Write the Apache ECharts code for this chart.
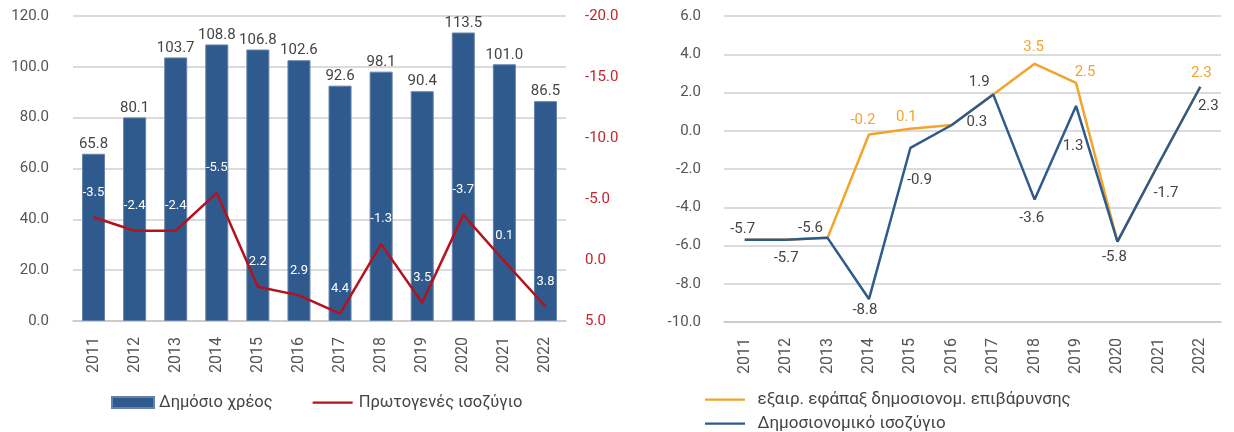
<!DOCTYPE html>
<html>
<head>
<meta charset="utf-8">
<script src="https://cdn.jsdelivr.net/npm/echarts@6/dist/echarts.min.js"></script>
<style>
  html, body { margin: 0; padding: 0; background: #fff; }
  #chart { width: 1234px; height: 432px; }
</style>
</head>
<body>
<div id="chart"></div>
<script>
const years = ['2011', '2012', '2013', '2014', '2015', '2016', '2017', '2018', '2019', '2020', '2021', '2022']

// left panel
const debt = [65.8, 80.1, 103.7, 108.8, 106.8, 102.6, 92.6, 98.1, 90.4, 113.5, 101.0, 86.5]
const primary = [-3.5, -2.4, -2.4, -5.5, 2.2, 2.9, 4.4, -1.3, 3.5, -3.7, 0.1, 3.8]

// right panel
const exOneOff = [-5.7, -5.7, -5.6, -0.2, 0.1, 0.3, 1.9, 3.5, 2.5, -5.8, -1.7, 2.3]
const fiscal = [-5.7, -5.7, -5.6, -8.8, -0.9, 0.3, 1.9, -3.6, 1.3, -5.8, -1.7, 2.3]

// which points get a label, and where the label sits relative to the point
const exOneOffLabel = { 3: [-6, -14], 4: [-4, -12], 7: [-1, -17], 8: [9, -11], 11: [1, -14] }
const fiscalLabel = [[-2, -11], [0, 18], [-17, -10], [-4, 11], [9, 32], [25, -3],
  [-14, -12], [-3, 19], [-3, 40], [-3, 16], [7, 30], [8, 19]]

const FONT = 'Roboto'
const GREY = '#555'
const BLUE = '#2f5a8e'
const ORANGE = '#f2a42c'
const RED = '#b3131c'
const fmt = v => Number(v).toFixed(1)

// thin line legend icon inside an 11px high box
const lineIcon = 'path://M0,0h0.01v0.01h-0.01z M0,4.5h40v2.2h-40z M39.99,10.99h0.01v0.01h-0.01z'

const gridLine = { show: true, lineStyle: { color: '#cfcfcf', width: 1.5 } }

const chart = echarts.init(document.getElementById('chart'))
chart.setOption({
  animation: false,
  textStyle: { fontFamily: FONT },
  grid: [
    { left: 73, right: 668, top: 16, bottom: 111 },
    { left: 724, right: 13, top: 16, bottom: 110 }
  ],
  legend: [
    {
      left: 106, top: 389, itemWidth: 42, itemHeight: 11, itemGap: 40,
      textStyle: { fontFamily: FONT, fontSize: 16.5, color: '#444' },
      data: [{ name: 'Δημόσιο χρέος', icon: 'rect' }, { name: 'Πρωτογενές ισοζύγιο', icon: lineIcon }]
    },
    {
      left: 700, top: 386, itemWidth: 55, itemHeight: 11,
      textStyle: { fontFamily: FONT, fontSize: 17, color: '#444' },
      data: [{ name: 'εξαιρ. εφάπαξ δημοσιονομ. επιβάρυνσης', icon: lineIcon }]
    },
    {
      left: 700, top: 410, itemWidth: 55, itemHeight: 11,
      textStyle: { fontFamily: FONT, fontSize: 17, color: '#444' },
      data: [{ name: 'Δημοσιονομικό ισοζύγιο', icon: lineIcon }]
    }
  ],
  xAxis: [
    {
      gridIndex: 0, type: 'category', data: years,
      axisLine: { lineStyle: { color: '#c8c8c8', width: 1.5 } },
      axisTick: { show: false },
      axisLabel: { rotate: 90, margin: 16, fontSize: 16, color: GREY, fontFamily: FONT }
    },
    {
      gridIndex: 1, type: 'category', data: years,
      axisLine: { onZero: false, lineStyle: { color: '#c8c8c8', width: 1.5 } },
      axisTick: { show: false },
      axisLabel: { rotate: 90, margin: 16, fontSize: 16, color: GREY, fontFamily: FONT }
    }
  ],
  yAxis: [
    {
      gridIndex: 0, type: 'value', min: 0, max: 120, interval: 20,
      axisLine: { show: false }, axisTick: { show: false },
      axisLabel: { formatter: fmt, margin: 24, fontSize: 15, color: GREY, fontFamily: FONT },
      splitLine: gridLine
    },
    {
      gridIndex: 0, type: 'value', min: -20, max: 5, interval: 5, inverse: true, position: 'right',
      axisLine: { show: false }, axisTick: { show: false },
      axisLabel: { formatter: fmt, margin: 19, fontSize: 15, color: '#c0262d', fontFamily: FONT },
      splitLine: { show: false }
    },
    {
      gridIndex: 1, type: 'value', min: -10, max: 6, interval: 2,
      axisLine: { show: false }, axisTick: { show: false },
      axisLabel: { formatter: fmt, margin: 23, fontSize: 15, color: GREY, fontFamily: FONT },
      splitLine: gridLine
    }
  ],
  series: [
    {
      name: 'Δημόσιο χρέος', type: 'bar', xAxisIndex: 0, yAxisIndex: 0,
      data: debt, barWidth: '56%',
      itemStyle: { color: BLUE, borderColor: '#6582ab', borderWidth: 1 },
      label: { show: true, position: 'top', distance: 2, formatter: p => fmt(p.value),
        fontSize: 15, color: '#444', fontFamily: FONT }
    },
    {
      name: 'Πρωτογενές ισοζύγιο', type: 'line', xAxisIndex: 0, yAxisIndex: 1,
      data: primary, symbol: 'circle', symbolSize: 0.1, z: 5,
      lineStyle: { color: RED, width: 2.5 }, itemStyle: { color: RED },
      label: { show: true, position: 'inside', offset: [0, -25], formatter: p => fmt(p.value),
        fontSize: 13, color: '#fff', fontFamily: FONT }
    },
    {
      name: 'εξαιρ. εφάπαξ δημοσιονομ. επιβάρυνσης', type: 'line', xAxisIndex: 1, yAxisIndex: 2,
      symbol: 'circle', symbolSize: 0.1, z: 3,
      lineStyle: { color: ORANGE, width: 2.5 }, itemStyle: { color: ORANGE },
      data: exOneOff.map((v, i) => ({
        value: v,
        label: exOneOffLabel[i]
          ? { show: true, position: 'inside', offset: exOneOffLabel[i], formatter: p => fmt(p.value),
              fontSize: 15, color: ORANGE, fontFamily: FONT }
          : { show: false }
      }))
    },
    {
      name: 'Δημοσιονομικό ισοζύγιο', type: 'line', xAxisIndex: 1, yAxisIndex: 2,
      symbol: 'circle', symbolSize: 0.1, z: 4,
      lineStyle: { color: BLUE, width: 2.5 }, itemStyle: { color: BLUE },
      data: fiscal.map((v, i) => ({
        value: v,
        label: { show: true, position: 'inside', offset: fiscalLabel[i], formatter: p => fmt(p.value),
          fontSize: 15, color: '#444', fontFamily: FONT }
      }))
    }
  ]
})
</script>
</body>
</html>
